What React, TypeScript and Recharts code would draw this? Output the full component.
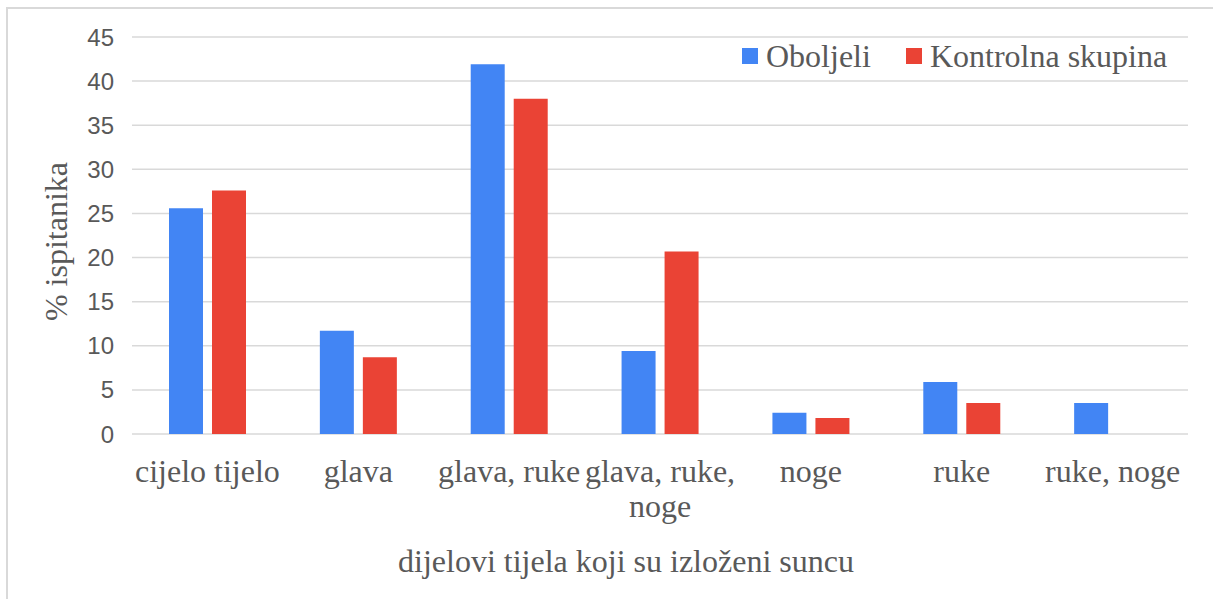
import React from "react";
import {
  Bar,
  BarChart,
  CartesianGrid,
  Label,
  Legend,
  XAxis,
  YAxis,
} from "recharts";

const categories = [
  "cijelo tijelo",
  "glava",
  "glava, ruke",
  "glava, ruke, noge",
  "noge",
  "ruke",
  "ruke, noge",
];
const oboljeli = [25.6, 11.7, 41.9, 9.4, 2.4, 5.9, 3.5];
const kontrolna = [27.6, 8.7, 38.0, 20.7, 1.8, 3.5, 0];
const yTicks = [0, 5, 10, 15, 20, 25, 30, 35, 40, 45];

const SERIF = '"Liberation Serif", "Times New Roman", serif';
const SANS = '"Liberation Sans", Arial, sans-serif';
const TEXT = "#595959";
const GRID = "#d9d9d9";
const BLUE = "#4285F4";
const RED = "#EA4335";

const data = categories.map((name, i) => ({
  name,
  oboljeli: oboljeli[i],
  kontrolna: kontrolna[i],
}));

// greedy wrap, roughly what fits in one category band
const wrapLabel = (s: string, max = 13) => {
  const lines: string[] = [];
  let cur = "";
  s.split(" ").forEach((w) => {
    const next = cur ? cur + " " + w : w;
    if (next.length > max && cur) {
      lines.push(cur);
      cur = w;
    } else {
      cur = next;
    }
  });
  if (cur) lines.push(cur);
  return lines;
};

const CategoryTick = (props: any) => {
  const { x, y, payload } = props;
  const lines = wrapLabel(String(payload.value));
  return (
    <text
      x={x}
      y={y}
      textAnchor="middle"
      fill={TEXT}
      style={{ fontFamily: SERIF, fontSize: 32 }}
    >
      {lines.map((line, i) => (
        <tspan key={i} x={x} dy={i === 0 ? "0.71em" : "1.1em"}>
          {line}
        </tspan>
      ))}
    </text>
  );
};

const YTitle = (props: any) => {
  const { viewBox } = props;
  const cx = viewBox.x + 56;
  const cy = viewBox.y + viewBox.height / 2 + 6;
  return (
    <text
      x={cx}
      y={cy}
      transform={`rotate(-90 ${cx} ${cy})`}
      textAnchor="middle"
      dominantBaseline="central"
      fill={TEXT}
      style={{ fontFamily: SERIF, fontSize: 32 }}
    >
      % ispitanika
    </text>
  );
};

const legendItems = [
  { name: "Oboljeli", color: BLUE },
  { name: "Kontrolna skupina", color: RED },
];

const renderLegend = () => (
  <div style={{ display: "flex", alignItems: "center" }}>
    {legendItems.map((item, i) => (
      <div
        key={item.name}
        style={{
          display: "flex",
          alignItems: "center",
          marginLeft: i === 0 ? 0 : 35,
        }}
      >
        <span
          style={{
            width: 16,
            height: 16,
            background: item.color,
            marginRight: 8,
            display: "inline-block",
          }}
        />
        <span
          style={{
            fontFamily: SERIF,
            fontSize: 32,
            lineHeight: "32px",
            color: TEXT,
            whiteSpace: "nowrap",
          }}
        >
          {item.name}
        </span>
      </div>
    ))}
  </div>
);

export default function App() {
  return (
    <div
      style={{
        position: "absolute",
        left: 0,
        top: 0,
        width: 1213,
        height: 599,
        background: "#fff",
        overflow: "hidden",
      }}
    >
      <div
        style={{
          position: "absolute",
          left: 6,
          top: 7,
          width: 1300,
          height: 700,
          borderTop: `2px solid ${GRID}`,
          borderLeft: `2px solid ${GRID}`,
        }}
      />
      <BarChart
        width={1213}
        height={599}
        data={data}
        margin={{ top: 37, right: 25, bottom: 15, left: 0 }}
        barSize={34}
        barGap={9}
      >
        <CartesianGrid vertical={false} stroke={GRID} strokeWidth={1.5} />
        <XAxis
          dataKey="name"
          axisLine={false}
          tickLine={false}
          interval={0}
          height={150}
          tickMargin={19}
          tick={<CategoryTick />}
        >
          <Label
            value="dijelovi tijela koji su izloženi suncu"
            position="insideBottom"
            offset={12}
            dx={-34}
            fill={TEXT}
            style={{ fontFamily: SERIF, fontSize: 32 }}
          />
        </XAxis>
        <YAxis
          width={132}
          domain={[0, 45]}
          ticks={yTicks}
          axisLine={false}
          tickLine={false}
          tickMargin={12}
          tick={{ fill: TEXT, fontFamily: SANS, fontSize: 24 }}
          label={<YTitle />}
        />
        <Legend
          layout="horizontal"
          verticalAlign="middle"
          align="center"
          content={renderLegend}
          wrapperStyle={{ top: 40, left: 742, width: "auto" }}
        />
        <Bar dataKey="oboljeli" name="Oboljeli" fill={BLUE} isAnimationActive={false} />
        <Bar dataKey="kontrolna" name="Kontrolna skupina" fill={RED} isAnimationActive={false} />
      </BarChart>
    </div>
  );
}
